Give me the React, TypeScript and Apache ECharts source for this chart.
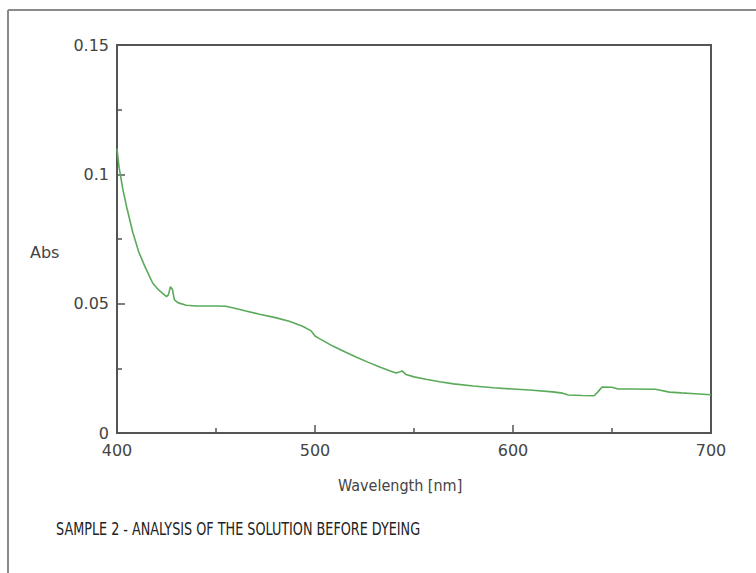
import React, { useEffect, useRef } from "react";
import * as echarts from "echarts";

const wavelengths = [400, 401, 403, 405, 408, 411, 414, 418, 421, 425, 426, 427, 428, 429, 431, 435, 440, 450, 455, 460, 465, 472, 480, 487, 494, 498, 500, 502, 509, 515, 521, 527, 533, 538, 541, 543, 544, 546, 550, 556, 563, 570, 580, 590, 600, 610, 620, 625, 628, 635, 641, 643, 645, 650, 653, 660, 672, 679, 685, 690, 700];
const absorbance = [0.110, 0.103, 0.094, 0.087, 0.0775, 0.070, 0.0645, 0.058, 0.0553, 0.0527, 0.0535, 0.0566, 0.0555, 0.0515, 0.0503, 0.0494, 0.0491, 0.0491, 0.049, 0.0481, 0.0472, 0.0459, 0.0446, 0.0432, 0.0412, 0.0395, 0.0375, 0.0366, 0.0336, 0.0314, 0.0293, 0.0273, 0.0254, 0.024, 0.0232, 0.0237, 0.024, 0.0226, 0.0217, 0.0208, 0.0198, 0.019, 0.0182, 0.0175, 0.017, 0.0165, 0.0159, 0.0154, 0.0147, 0.0145, 0.0144, 0.016, 0.0178, 0.0177, 0.017, 0.017, 0.0169, 0.0158, 0.0155, 0.0153, 0.0148];
const yLabelValues = [0, 0.05, 0.1, 0.15];
const yLabelTexts = ["0", "0.05", "0.1", "0.15"];
const xAxisTitle = "Wavelength [nm]";
const yAxisTitle = "Abs";
const caption = "SAMPLE 2 - ANALYSIS OF THE SOLUTION BEFORE DYEING";

export default function App() {
  const ref = useRef<HTMLDivElement>(null);
  useEffect(() => {
    if (!ref.current) return;
    const chart = echarts.init(ref.current, null, { renderer: "svg" });
    const labelColor = "#444";
    const axisColor = "#555";
    chart.setOption({
      animation: false,
      backgroundColor: "#fff",
      grid: {
        left: 117, top: 45, width: 594, height: 388,
        show: true, borderColor: axisColor, borderWidth: 2, backgroundColor: "transparent",
      },
      xAxis: {
        type: "value", min: 400, max: 700, interval: 100,
        axisLine: { show: false },
        axisTick: { show: true, inside: true, length: 8, lineStyle: { color: axisColor, width: 1.5 } },
        minorTick: { show: true, splitNumber: 2, length: 5, lineStyle: { color: axisColor, width: 1.5 } },
        splitLine: { show: false },
        axisLabel: { color: labelColor, fontSize: 16, fontFamily: "DejaVu Sans", margin: 9 },
      },
      yAxis: {
        type: "value", min: 0, max: 0.15, interval: 0.05,
        axisLine: { show: false },
        axisTick: { show: true, inside: true, length: 8, lineStyle: { color: axisColor, width: 1.5 } },
        minorTick: { show: true, splitNumber: 2, length: 5, lineStyle: { color: axisColor, width: 1.5 } },
        splitLine: { show: false },
        axisLabel: {
          color: labelColor, fontSize: 16, fontFamily: "DejaVu Sans", margin: 8,
          formatter: (v: number) => {
            const i = yLabelValues.findIndex((x) => Math.abs(x - v) < 1e-9);
            return i >= 0 ? yLabelTexts[i] : "";
          },
        },
      },
      series: [
        {
          type: "line",
          data: wavelengths.map((w, i) => [w, absorbance[i]]),
          showSymbol: false,
          lineStyle: { color: "#5aaa5a", width: 1.6 },
        },
      ],
      graphic: [
        { type: "line", shape: { x1: 8, y1: 10, x2: 756, y2: 10 }, style: { stroke: "#8a8a8a", lineWidth: 2 } },
        { type: "line", shape: { x1: 8, y1: 10, x2: 8, y2: 573 }, style: { stroke: "#8a8a8a", lineWidth: 2 } },
        { type: "text", x: 30, y: 252, style: { text: yAxisTitle, fill: labelColor, font: "16px 'DejaVu Sans'", textVerticalAlign: "middle" } },
        { type: "text", x: 338, y: 485, style: { text: xAxisTitle, fill: labelColor, font: "16px 'DejaVu Sans Condensed'", textVerticalAlign: "middle" } },
        { type: "text", x: 56, y: 529, scaleX: 0.79, style: { text: caption, fill: "#222", font: "18px 'DejaVu Sans Condensed'", textVerticalAlign: "middle" } },
      ],
    });
    return () => chart.dispose();
  }, []);
  return <div ref={ref} style={{ position: "fixed", left: 0, top: 0, width: 756, height: 573 }} />;
}
